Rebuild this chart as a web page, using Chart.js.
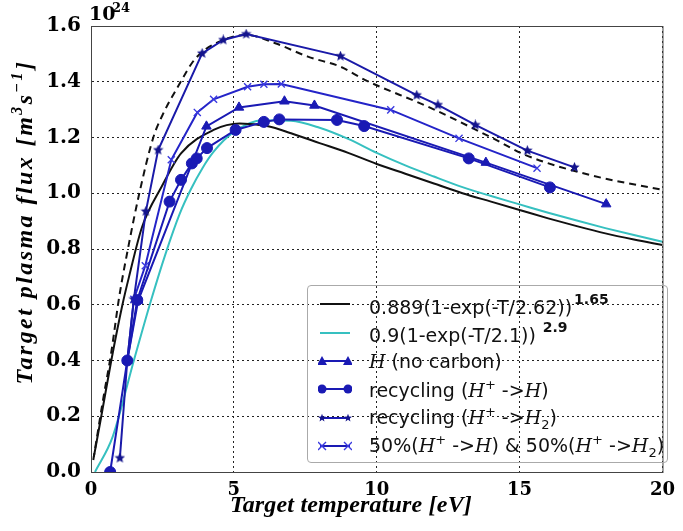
<!DOCTYPE html>
<html>
<head>
<meta charset="utf-8">
<script src="https://cdn.jsdelivr.net/npm/chart.js@4"></script>
<style>
  body { margin: 0; background: #fff; }
  #wrap { position: relative; width: 683px; height: 531px; }
  #legend {
    position: absolute; left: 307px; top: 285px; width: 361px; height: 178px;
    border: 1px solid #aaa; border-radius: 4px; padding-top: 4px; box-sizing: border-box;
    font-family: "DejaVu Sans", sans-serif; font-size: 19px; color: #111;
  }
  .row { height: 28.4px; display: flex; align-items: center; white-space: nowrap; }
  .row svg { margin-left: 10px; margin-right: 17px; flex: none; }
  .m { font-family: "DejaVu Serif", serif; font-style: italic; }
  sup.b { font-weight: bold; font-size: 14px; vertical-align: 10px; margin-left: 2px; }
  sup.p { font-size: 13px; vertical-align: 8px; }
  sub { font-size: 13px; }
</style>
</head>
<body>
<div id="wrap">
  <canvas id="chart" width="683" height="531"></canvas>
  <div id="legend"></div>
</div>
<script>
// fit curves
const blackT    = [0.1, 0.36, 0.71, 1.1, 1.33, 1.79, 2.47, 3.15, 4.29, 5.2, 6.2, 7.0, 8.0, 9.0, 10.0, 11.0, 12.0, 13.0, 14.0, 15.0, 16.0, 17.0, 18.0, 19.0, 20];
const blackFlux = [0.055, 0.2, 0.40, 0.6, 0.70, 0.88, 1.023, 1.143, 1.227, 1.25, 1.24, 1.215, 1.18, 1.145, 1.105, 1.07, 1.035, 1.0, 0.97, 0.94, 0.91, 0.882, 0.856, 0.834, 0.814];

const cyanT    = [0.14, 0.76, 1.5, 2.1, 2.6, 3.1, 3.5, 3.9, 4.3, 5.0, 6.0, 7.0, 8.0, 9.0, 10.0, 11.0, 12.0, 13.0, 14.0, 15.0, 16.0, 17.0, 18.0, 19.0, 20];
const cyanFlux = [0.0, 0.127, 0.40, 0.615, 0.78, 0.925, 1.015, 1.09, 1.15, 1.22, 1.262, 1.26, 1.235, 1.195, 1.145, 1.1, 1.06, 1.022, 0.99, 0.96, 0.93, 0.902, 0.875, 0.85, 0.826];

const dashT    = [0.08, 0.42, 0.71, 0.99, 1.33, 1.67, 2.18, 2.5, 3.04, 3.66, 4.63, 5.43, 6.45, 7.59, 8.73, 9.6, 11.8, 14.07, 15.21, 17.48, 20];
const dashFlux = [0.043, 0.258, 0.43, 0.63, 0.82, 0.99, 1.2, 1.28, 1.382, 1.484, 1.55, 1.568, 1.538, 1.49, 1.454, 1.406, 1.31, 1.197, 1.137, 1.065, 1.012];

// simulation series
const noCarbonT    = [1.27, 1.65, 4.04, 5.18, 6.77, 7.82, 13.82, 18.03];
const noCarbonFlux = [0.40, 0.615, 1.24, 1.308, 1.33, 1.315, 1.11, 0.961];

const recHT    = [0.67, 1.27, 1.62, 2.75, 3.15, 3.53, 3.70, 4.06, 5.06, 6.05, 6.59, 8.61, 9.56, 13.22, 16.06];
const recHFlux = [0.0, 0.40, 0.617, 0.97, 1.048, 1.107, 1.125, 1.162, 1.227, 1.256, 1.265, 1.263, 1.241, 1.125, 1.021];

const recH2T    = [1.01, 1.27, 1.5, 1.92, 2.35, 3.89, 4.63, 5.43, 8.73, 11.4, 12.14, 13.45, 15.27, 16.92];
const recH2Flux = [0.05, 0.40, 0.62, 0.935, 1.155, 1.502, 1.55, 1.571, 1.492, 1.352, 1.317, 1.245, 1.153, 1.093];

const mixT    = [1.27, 1.5, 1.9, 2.81, 3.72, 4.29, 5.48, 6.05, 6.66, 10.49, 12.88, 15.61];
const mixFlux = [0.40, 0.62, 0.74, 1.12, 1.29, 1.337, 1.382, 1.391, 1.392, 1.299, 1.197, 1.09];

const xTicks = [0, 5, 10, 15, 20];
const yTicks = ['0.0', '0.2', '0.4', '0.6', '0.8', '1.0', '1.2', '1.4', '1.6'];

const BLUE = '#1a1ab4';
const CYAN = '#36c0c0';

const pts = (ts, fs) => ts.map((t, i) => ({ x: t, y: fs[i] }));

// matplotlib-like filled star
function starImg(size, color) {
    const c = document.createElement('canvas');
    c.width = size; c.height = size;
    const g = c.getContext('2d');
    const r = size / 2, r2 = r * 0.45;
    g.beginPath();
    for (let i = 0; i < 10; i++) {
        const a = -Math.PI / 2 + i * Math.PI / 5;
        const rr = i % 2 ? r2 : r;
        g.lineTo(r + rr * Math.cos(a), r + rr * Math.sin(a));
    }
    g.closePath();
    g.fillStyle = color;
    g.fill();
    return c;
}
const star = starImg(11, '#14148c');

const serif = '"DejaVu Serif", serif';

// draws runs of text [str, font, dy] centred at (cx, cy), optional letter spacing
function drawRuns(ctx, runs, cx, cy, width) {
    ctx.letterSpacing = '0px';
    let w = 0, n = 0;
    runs.forEach(r => { ctx.font = r[1]; w += ctx.measureText(r[0]).width; n += r[0].length; });
    let sp = 0;
    if (width && width > w) sp = (width - w) / n;
    ctx.letterSpacing = sp + 'px';
    let x = cx - (w + sp * n) / 2;
    ctx.textAlign = 'left';
    ctx.textBaseline = 'middle';
    runs.forEach(r => {
        ctx.font = r[1];
        ctx.fillText(r[0], x, cy + r[2]);
        x += ctx.measureText(r[0]).width;
    });
    ctx.letterSpacing = '0px';
}

const decor = {
    id: 'decor',
    afterDraw(chart) {
        const { ctx, chartArea: a } = chart;
        ctx.save();
        ctx.strokeStyle = '#444';
        ctx.lineWidth = 1;
        ctx.strokeRect(a.left + 0.5, a.top + 0.5, a.right - a.left, a.bottom - a.top);
        ctx.fillStyle = '#000';
        const ti = 'bold italic 24px "Liberation Serif", serif';
        const sm = 'bold italic 16px "Liberation Serif", serif';
        drawRuns(ctx, [['Target temperature [eV]', ti, 0]], 351, 506, 242);
        ctx.translate(26, 222);
        ctx.rotate(-Math.PI / 2);
        drawRuns(ctx, [['Target plasma flux [', ti, 0], ['m', ti, 0], ['3', sm, -8], ['s', ti, 0], ['\u22121', sm, -8], [']', ti, 0]], 0, 0, 325);
        ctx.restore();
        ctx.save();
        ctx.fillStyle = '#000';
        ctx.textBaseline = 'alphabetic';
        ctx.font = 'bold 19px ' + serif;
        ctx.fillText('10', 89, 20);
        ctx.font = 'bold 13px ' + serif;
        ctx.fillText('24', 112, 12);
        ctx.restore();
    }
};

const blueSet = (label, t, f, style, extra) => Object.assign({
    label, data: pts(t, f), borderColor: BLUE, backgroundColor: BLUE,
    borderWidth: 2, pointStyle: style, pointRadius: 5, pointBorderWidth: 1,
    tension: 0, order: 1
}, extra || {});

new Chart(document.getElementById('chart'), {
    type: 'line',
    data: {
        datasets: [
            blueSet('H (no carbon)', noCarbonT, noCarbonFlux, 'triangle', { pointRadius: 5.5 }),
            blueSet('recycling (H+->H)', recHT, recHFlux, 'circle', { pointRadius: 5.5 }),
            blueSet('recycling (H+->H2)', recH2T, recH2Flux, star, { borderColor: '#1a1aa8' }),
            blueSet('50%(H+->H) & 50%(H+->H2)', mixT, mixFlux, 'crossRot', { borderColor: '#2424c8', pointBorderColor: '#3a3ae0', pointBorderWidth: 1.4 }),
            { label: '0.889(1-exp(-T/2.62))^1.65', data: pts(blackT, blackFlux), borderColor: '#111', borderWidth: 2,
              pointRadius: 0, cubicInterpolationMode: 'monotone', order: 2 },
            { label: '0.9(1-exp(-T/2.1))^2.9', data: pts(cyanT, cyanFlux), borderColor: CYAN, borderWidth: 2,
              pointRadius: 0, cubicInterpolationMode: 'monotone', order: 2 },
            { label: 'upper', data: pts(dashT, dashFlux), borderColor: '#111', borderWidth: 2, borderDash: [7, 5],
              pointRadius: 0, cubicInterpolationMode: 'monotone', order: 2 }
        ]
    },
    options: {
        responsive: false,
        animation: false,
        devicePixelRatio: 1,
        layout: { padding: { top: 26, right: 6, left: 0, bottom: 0 } },
        plugins: { legend: { display: false }, tooltip: { enabled: false } },
        scales: {
            x: {
                type: 'linear', min: 0, max: 20,
                afterFit: s => { s.height = 59; },
                afterBuildTicks: s => { s.ticks = xTicks.map(v => ({ value: v })); },
                ticks: { color: '#000', padding: 8, maxRotation: 0, font: { family: serif, weight: 'bold', size: 18 },
                         callback: v => String(v) },
                grid: { color: '#222', lineWidth: 1, drawTicks: false },
                border: { color: '#444', width: 1, dash: [2, 3] }
            },
            y: {
                type: 'linear', min: 0, max: 1.6,
                afterFit: s => { s.width = 91; },
                afterBuildTicks: s => { s.ticks = yTicks.map(v => ({ value: parseFloat(v) })); },
                ticks: { color: '#000', padding: 10, font: { family: serif, weight: 'bold', size: 20 },
                         callback: v => yTicks.find(t => parseFloat(t) === v) },
                grid: { color: '#222', lineWidth: 1, drawTicks: false },
                border: { color: '#444', width: 1, dash: [2, 3] }
            }
        }
    },
    plugins: [decor]
});

// legend (html so the math italics and exponents can be set)
const H = '<span class="m">H</span>';
const Hp = H + '<sup class="p">+</sup>';
const H2 = H + '<sub>2</sub>';
function sample(kind) {
    let s = '<svg width="34" height="14" viewBox="0 0 34 14">';
    const col = kind === 'black' ? '#111' : kind === 'cyan' ? CYAN : BLUE;
    s += `<line x1="2" y1="7" x2="32" y2="7" stroke="${col}" stroke-width="2"/>`;
    [4, 30].forEach(cx => {
        if (kind === 'tri') s += `<polygon points="${cx},2 ${cx + 5},11 ${cx - 5},11" fill="${BLUE}"/>`;
        if (kind === 'circ') s += `<circle cx="${cx}" cy="7" r="4.5" fill="${BLUE}"/>`;
        if (kind === 'star') {
            let p = [];
            for (let i = 0; i < 10; i++) {
                const a = -Math.PI / 2 + i * Math.PI / 5, r = i % 2 ? 1.8 : 4.2;
                p.push((cx + r * Math.cos(a)).toFixed(2) + ',' + (7 + r * Math.sin(a)).toFixed(2));
            }
            s += `<polygon points="${p.join(' ')}" fill="#14148c"/>`;
        }
        if (kind === 'x') s += `<path d="M${cx - 4},3 L${cx + 4},11 M${cx - 4},11 L${cx + 4},3" stroke="#3a3ae0" stroke-width="1.4"/>`;
    });
    return s + '</svg>';
}
const legendRows = [
    ['black', '0.889(1-exp(-T/2.62))<sup class="b">1.65</sup>'],
    ['cyan', '0.9(1-exp(-T/2.1))<sup class="b">&nbsp;2.9</sup>'],
    ['tri', H + ' (no carbon)'],
    ['circ', 'recycling (' + Hp + ' -&gt;' + H + ')'],
    ['star', 'recycling (' + Hp + ' -&gt;' + H2 + ')'],
    ['x', '50%(' + Hp + ' -&gt;' + H + ') &amp; 50%(' + Hp + ' -&gt;' + H2 + ')']
];
document.getElementById('legend').innerHTML =
    legendRows.map(r => `<div class="row">${sample(r[0])}<span>${r[1]}</span></div>`).join('');
</script>
</body>
</html>
